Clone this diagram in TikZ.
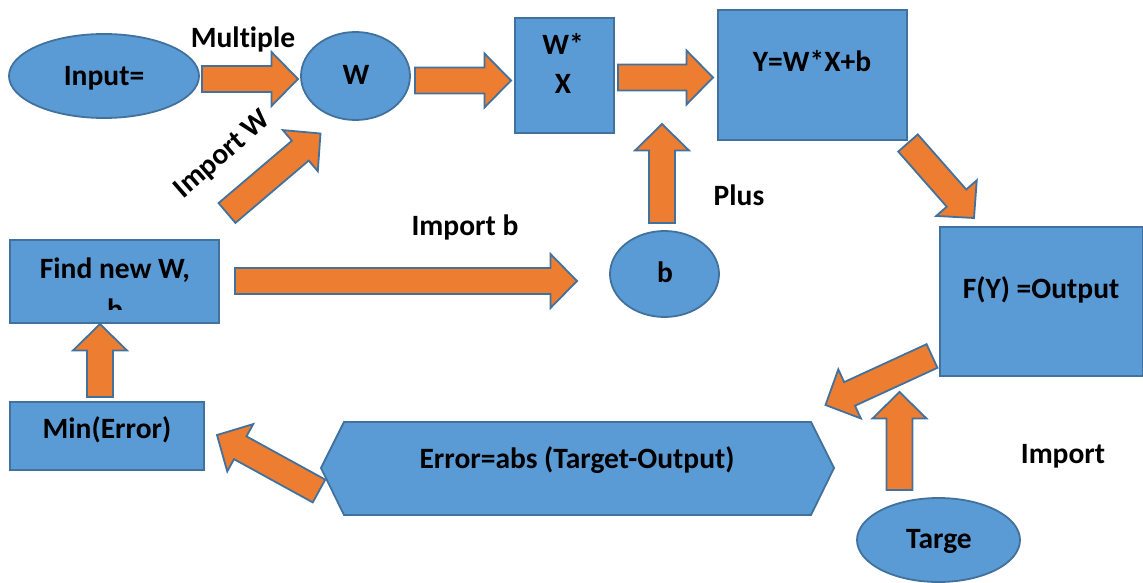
\documentclass[tikz,border=0pt]{standalone}
\usepackage{fontspec}
\setmainfont{Carlito}[Ligatures=NoCommon]
\usetikzlibrary{shapes.geometric,calc}

\definecolor{boxfill}{HTML}{5B9BD5}
\definecolor{boxline}{HTML}{41719C}
\definecolor{arrowfill}{HTML}{ED7D31}

\tikzset{
  shapebox/.style={draw=boxline, fill=boxfill, line width=1.8pt, inner sep=0pt},
  rectbox/.style={shapebox, rectangle, anchor=north west},
  ovalbox/.style={shapebox, ellipse},
  txtfont/.style={font=\fontsize{29.5}{35}\selectfont\bfseries},
  lbl/.style={txtfont, anchor=base, inner sep=0pt},
  blockarrow/.style={draw=boxline, fill=arrowfill, line width=1.8pt, line join=miter},
}

% thick block arrow from tail coordinate #1 to tip coordinate #2
\newcommand\blockarr[2]{%
  \coordinate (hd) at ($(#2)!26.5pt!(#1)$);
  \draw[blockarrow]
    ($(#1)!13pt!90:(#2)$) -- ($(hd)!13pt!90:(#2)$) -- ($(hd)!27pt!90:(#2)$)
    -- (#2)
    -- ($(hd)!27pt!-90:(#2)$) -- ($(hd)!13pt!-90:(#2)$) -- ($(#1)!13pt!-90:(#2)$)
    -- cycle;
}

\begin{document}
\begin{tikzpicture}[x=1pt, y=-1pt]
\useasboundingbox (0,0) rectangle (1143,583);

% ---- shapes ----
\node[ovalbox, minimum width=190, minimum height=84] (input) at (104,76) {};
\node[ovalbox, minimum width=109, minimum height=88] (w) at (355.5,76) {};
\node[rectbox, minimum width=99, minimum height=115] (wx) at (514,17) {};
\node[rectbox, minimum width=189, minimum height=130] (y) at (717,9) {};
\node[rectbox, minimum width=203, minimum height=149] (fy) at (939,226) {};
\node[ovalbox, minimum width=109, minimum height=86] (b) at (664.5,274) {};
\node[rectbox, minimum width=209, minimum height=83] (find) at (9,239) {};
\node[rectbox, minimum width=194, minimum height=68] (min) at (9,401) {};
\node[ovalbox, minimum width=163, minimum height=84] (targe) at (938.5,540) {};

% ---- arrow end points ----
\coordinate (inT) at (202,79);     \coordinate (inH) at (298,79);
\coordinate (wT) at (415,80.5);    \coordinate (wH) at (511,80.5);
\coordinate (wxT) at (618,77.5);   \coordinate (wxH) at (713,77.5);
\coordinate (iwT) at (227,213);    \coordinate (iwH) at (320.5,133.5);
\coordinate (plT) at (662,223);    \coordinate (plH) at (662,124);
\coordinate (ibT) at (235,281);    \coordinate (ibH) at (577,281);
\coordinate (yT) at (908,143);     \coordinate (yH) at (974,218);
\coordinate (fT) at (932,356);     \coordinate (fH) at (825.5,405);
\coordinate (tgT) at (899.5,490);  \coordinate (tgH) at (899.5,392);
\coordinate (erT) at (319,491);    \coordinate (erH) at (217,435);
\coordinate (mnT) at (100,397);    \coordinate (mnH) at (100,324);

\blockarr{inT}{inH}
\blockarr{wT}{wH}
\blockarr{wxT}{wxH}
\blockarr{iwT}{iwH}
\blockarr{plT}{plH}
\blockarr{ibT}{ibH}
\blockarr{yT}{yH}
\blockarr{fT}{fH}
\blockarr{tgT}{tgH}
\blockarr{erT}{erH}
\blockarr{mnT}{mnH}

% error hexagon
\draw[shapebox] (321,468) -- (344,422) -- (811,422) -- (834,468) -- (811,515) -- (344,515) -- cycle;

% ---- texts ----
\node[lbl] (tinput) at (104,86) {Input=};
\node[lbl] (tmult) at (243,48) {Multiple};
\node[lbl] (tw) at (356,85) {W};
\node[lbl] (twx1) at (563,55) {W*};
\node[lbl] (twx2) at (563,94) {X};
\node[lbl] (ty) at (812,72) {Y=W*X+b};
\node[lbl] (tplus) at (739,205) {Plus};
\node[lbl] (timpb) at (465,235) {Import b};
\node[lbl] (tb) at (665,282) {b};
\node[lbl] (tfind) at (115,278) {Find new W,};
\begin{scope}
  \clip (10,240) rectangle (217,309);
  \node[lbl] (tfindb) at (115,319) {b};
\end{scope}
\node[lbl] (tfy) at (1041,298) {F(Y) =Output};
\node[lbl] (tmin) at (107,438) {Min(Error)};
\node[lbl] (terr) at (577,468) {Error=abs (Target-Output)};
\node[lbl] (ttarge) at (939,548) {Targe};
\node[lbl] (timp) at (1063,463) {Import};
\node[txtfont, inner sep=0pt, rotate=41] (timpw) at (223,155) {Import W};
\end{tikzpicture}
\end{document}
